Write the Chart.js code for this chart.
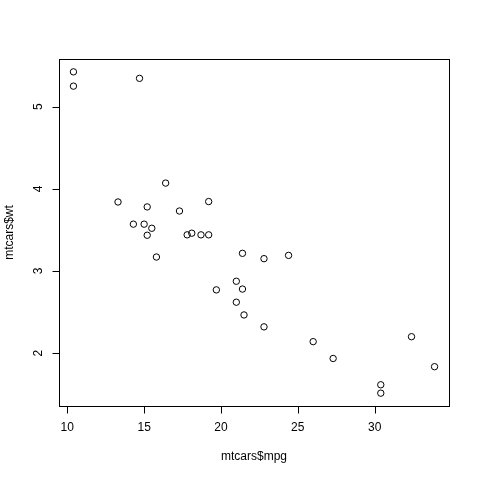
<!DOCTYPE html>
<html>
<head>
<meta charset="utf-8">
<script src="https://cdn.jsdelivr.net/npm/chart.js@4"></script>
<style>
  html, body { margin: 0; padding: 0; background: #fff; }
  #wrap { width: 480px; height: 480px; }
</style>
</head>
<body>
<div id="wrap"><canvas id="plot" width="480" height="480"></canvas></div>
<script>
// mtcars: mpg vs wt
const mpg = [21.0, 21.0, 22.8, 21.4, 18.7, 18.1, 14.3, 24.4, 22.8, 19.2, 17.8, 16.4, 17.3, 15.2, 10.4, 10.4,
  14.7, 32.4, 30.4, 33.9, 21.5, 15.5, 15.2, 13.3, 19.2, 27.3, 26.0, 30.4, 15.8, 19.7, 15.0, 21.4];
const wt = [2.620, 2.875, 2.320, 3.215, 3.440, 3.460, 3.570, 3.190, 3.150, 3.440, 3.440, 4.070, 3.730, 3.780, 5.250, 5.424,
  5.345, 2.200, 1.615, 1.835, 2.465, 3.520, 3.435, 3.840, 3.845, 1.935, 2.140, 1.513, 3.170, 2.770, 3.570, 2.780];
const xTicks = [10, 15, 20, 25, 30];
const yTicks = [2, 3, 4, 5];
const xTitle = "mtcars$mpg";
const yTitle = "mtcars$wt";

// R style 4% padding around data range
function padRange(v) {
  const lo = Math.min(...v), hi = Math.max(...v), d = (hi - lo) * 0.04;
  return [lo - d, hi + d];
}
const [xMin, xMax] = padRange(mpg);
const [yMin, yMax] = padRange(wt);

const FONT = "12px 'Liberation Sans', Arial, sans-serif";

const baseAxes = {
  id: "baseAxes",
  afterDraw(chart) {
    const { ctx, chartArea: a } = chart;
    const xs = chart.scales.x, ys = chart.scales.y;
    ctx.save();
    ctx.strokeStyle = "#000";
    ctx.lineWidth = 1;
    ctx.strokeRect(a.left + 0.5, a.top + 0.5, a.right - a.left, a.bottom - a.top);

    ctx.fillStyle = "#000";
    ctx.font = FONT;

    // x axis
    const xb = Math.round(a.bottom) + 0.5;
    ctx.beginPath();
    ctx.moveTo(xs.getPixelForValue(xTicks[0]), xb);
    ctx.lineTo(xs.getPixelForValue(xTicks[xTicks.length - 1]), xb);
    xTicks.forEach(t => {
      const px = Math.round(xs.getPixelForValue(t)) + 0.5;
      ctx.moveTo(px, xb);
      ctx.lineTo(px, xb + 7);
    });
    ctx.stroke();
    ctx.textAlign = "center";
    ctx.textBaseline = "middle";
    xTicks.forEach(t => ctx.fillText(String(t), xs.getPixelForValue(t), a.bottom + 22));
    ctx.fillText(xTitle, (a.left + a.right) / 2, a.bottom + 51);

    // y axis
    const yl = Math.round(a.left) + 0.5;
    ctx.beginPath();
    ctx.moveTo(yl, ys.getPixelForValue(yTicks[0]));
    ctx.lineTo(yl, ys.getPixelForValue(yTicks[yTicks.length - 1]));
    yTicks.forEach(t => {
      const py = Math.round(ys.getPixelForValue(t)) + 0.5;
      ctx.moveTo(yl, py);
      ctx.lineTo(yl - 7, py);
    });
    ctx.stroke();
    yTicks.forEach(t => {
      ctx.save();
      ctx.translate(a.left - 20, ys.getPixelForValue(t));
      ctx.rotate(-Math.PI / 2);
      ctx.fillText(String(t), 0, 0);
      ctx.restore();
    });
    ctx.save();
    ctx.translate(a.left - 49, (a.top + a.bottom) / 2);
    ctx.rotate(-Math.PI / 2);
    ctx.fillText(yTitle, 0, 0);
    ctx.restore();
    ctx.restore();
  }
};

new Chart(document.getElementById("plot"), {
  type: "scatter",
  data: {
    datasets: [{
      data: mpg.map((m, i) => ({ x: m, y: wt[i] })),
      pointStyle: "circle",
      pointRadius: 3.2,
      pointBorderWidth: 1,
      pointBorderColor: "#000",
      pointBackgroundColor: "rgba(0,0,0,0)",
      clip: false
    }]
  },
  options: {
    responsive: false,
    animation: false,
    devicePixelRatio: 1,
    layout: { padding: { left: 59, top: 59, right: 31, bottom: 74 } },
    plugins: { legend: { display: false }, tooltip: { enabled: false } },
    scales: {
      x: { type: "linear", min: xMin, max: xMax, display: false },
      y: { type: "linear", min: yMin, max: yMax, display: false }
    }
  },
  plugins: [baseAxes]
});
</script>
</body>
</html>
